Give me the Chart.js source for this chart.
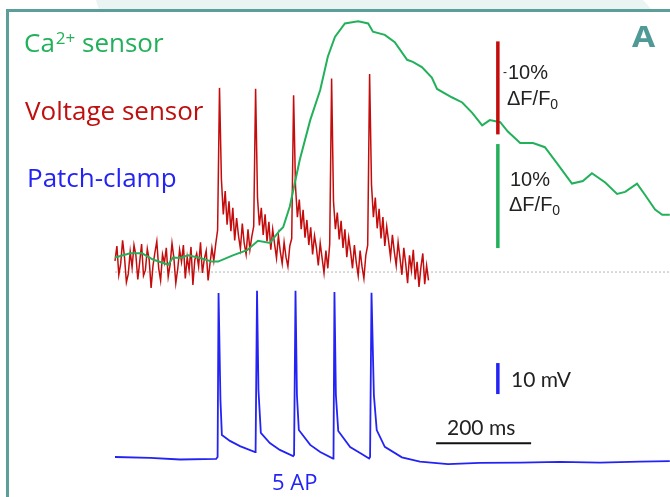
<!DOCTYPE html>
<html>
<head>
<meta charset="utf-8">
<script src="https://cdn.jsdelivr.net/npm/chart.js@4"></script>
<style>
  html, body { margin: 0; padding: 0; background: #fff; }
  body { width: 670px; height: 497px; position: relative; overflow: hidden; }
  #band { position: absolute; left: 0; top: 0; width: 670px; height: 10px; background: #e9f4f3;
          clip-path: polygon(96px 0, 643px 0, 652px 10px, 99px 10px); }
  #frame { position: absolute; left: 6px; top: 9px; width: 700px; height: 520px;
           border-left: 3px solid #5b9e9a; border-top: 3px solid #5b9e9a; box-sizing: border-box; }
  #c { position: absolute; left: 0; top: 0; }
</style>
</head>
<body>
<div id="band"></div>
<div id="frame"></div>
<canvas id="c" width="670" height="497"></canvas>
<script>
// time in ms, trace start = 0
// voltage sensor (-ΔF/F, %), sampled every 4 ms
const redStart = 0, redStep = 4;
const redValues = [
  -1.2, -2.8, 0.3, -0.9, -3.4, -1.6, 1.1, 0.2, -2.2, -0.5,
  -2.9, -1.8, 0.8, -1.1, -3.0, 0.4, -0.2, -2.5, -1.3, 1.7,
  -0.7, -2.1, -3.3, -0.4, 0.9, -1.9, -1.0, -2.6, 0.5, -0.8,
  -3.1, -1.5, 1.2, -0.3, -2.4, -1.1, -2.9, 0.7, -1.6, -0.2,
  -2.7, 1.4, -1.3, -2.0, -0.6, -3.2, 0.1, -1.4, -2.3, 0.9,
  -0.9, -2.6, -1.2, -3.0,
  -4.5, -19.8, -10.0, -6.2, -8.7, -5.1, -7.6, -4.4, -6.9, -3.4,
  -5.8, -3.9, -2.5, -5.2, -3.1, -1.9, -4.6, -2.4, -3.8, -4.9,
  -19.7, -8.0, -5.0, -6.9, -4.0, -6.2, -3.3, -5.4, -2.4, -4.6,
  -3.0, -1.5, -3.9, -2.2, -0.9, -3.2, -1.6, -0.6, -2.8, -3.6,
  -19.0, -9.2, -5.9, -7.8, -4.6, -6.7, -3.7, -5.6, -2.9, -4.8,
  -1.9, -3.9, -2.6, -0.7, -3.1, -1.5, 0.1, -2.3, -0.4, -3.0,
  -20.8, -7.6, -4.6, -6.4, -3.5, -5.5, -2.6, -4.6, -1.6, -3.7,
  -2.2, -0.4, -2.9, -1.0, 0.4, -2.3, -0.6, 0.7, -1.8, -2.9,
  -21.3, -9.4, -5.9, -8.0, -4.7, -6.8, -3.6, -5.9, -2.8, -4.9,
  -3.3, -1.6, -4.0, -2.2, -0.7, -3.2, -1.5, 0.3, -2.6, -0.9,
  1.2, -1.8, -0.2, -2.4, 0.8, -1.1, 1.6, -0.5, -2.0, 1.3,
  -0.7, 0.9
];

// Ca2+ sensor (ΔF/F, %)
const greenTimes = [0, 32, 57, 80, 112, 122, 137, 154, 179, 204, 217, 248, 278, 301, 326, 347, 354, 368, 389, 411,
  432, 448, 463, 484, 512, 533, 543, 568, 589, 615, 627, 646, 667, 678, 709, 731, 752, 773, 789, 811,
  827, 853, 880, 905, 933, 962, 985, 1004, 1032, 1057, 1074, 1099, 1116, 1137, 1152, 1168];
const greenValues = [1.4, 1.8, 1.8, 1.2, 0.7, 1.4, 1.35, 1.6, 1.35, 1.0, 1.0, 1.6, 2.1, 3.0, 2.8, 4.0, 4.3, 6.3, 10.8, 14.6,
  17.5, 20.7, 22.6, 23.9, 24.1, 23.9, 23.1, 22.8, 22.1, 20.4, 20.2, 19.7, 18.7, 17.6, 16.8, 16.3, 15.3, 14.1, 14.6, 14.4,
  13.5, 12.4, 12.4, 12.0, 10.3, 8.5, 8.75, 9.5, 8.6, 7.5, 7.7, 8.5, 7.4, 6.0, 5.5, 5.5];

// patch-clamp (mV)
const blueTimes = [0, 74, 137, 213, 216, 218, 222, 225, 242, 263, 295, 296, 299, 302, 307, 326, 347, 375,
  377, 380, 383, 387, 411, 432, 459, 460, 462, 465, 470, 495, 516, 535, 537, 540, 545, 551, 568, 604,
  642, 701, 768, 853, 937, 1021, 1105, 1168];
const blueValues = [-65.0, -65.3, -65.8, -65.6, -65.0, -12.1, -46.6, -57.9, -59.8, -61.5, -63.4, -63.0, -11.4, -43.4, -57.2, -60.5, -62.7, -64.7,
  -64.3, -11.4, -45.0, -56.3, -61.1, -63.4, -65.5, -65.0, -11.8, -45.0, -56.6, -61.8, -63.7, -65.5, -65.0, -12.0, -45.0, -56.3, -61.7, -65.1,
  -66.5, -67.3, -66.9, -66.8, -66.6, -66.8, -66.5, -66.3];

const baselineTimes = [0, 1168];
const baselineValues = [0, 0];

const pts = (xs, ys) => ys.map((y, i) => ({ x: xs[i], y: y }));
const redTimes = redValues.map((v, i) => redStart + i * redStep);

const GREEN = '#22b15a', RED = '#c40c0c', BLUE = '#2323f5', TEAL = '#4f9a96';

// scale bars and labels
const overlay = {
  id: 'overlay',
  afterDatasetsDraw(chart) {
    const c = chart.ctx, s = chart.scales;
    const bar = (color, w, x1, y1, x2, y2) => {
      c.save(); c.strokeStyle = color; c.lineWidth = w; c.lineCap = 'butt';
      c.beginPath(); c.moveTo(x1, y1); c.lineTo(x2, y2); c.stroke(); c.restore();
    };
    const bx = s.x.getPixelForValue(806);
    bar(RED, 3.5, bx, s.yRed.getPixelForValue(-24.8), bx, s.yRed.getPixelForValue(-14.8));
    bar(GREEN, 3.5, bx, s.yGreen.getPixelForValue(12.3), bx, s.yGreen.getPixelForValue(2.3));
    bar(BLUE, 3.5, bx, s.yBlue.getPixelForValue(-34.7), bx, s.yBlue.getPixelForValue(-44.7));
    const ty = s.yBlue.getPixelForValue(-60.6);
    bar('#111', 2, s.x.getPixelForValue(676), ty, s.x.getPixelForValue(876), ty);

    const txt = (t, x, y, font, color, sx = 1) => {
      c.save(); c.font = font; c.fillStyle = color; c.textBaseline = 'alphabetic';
      c.translate(x, y); c.scale(sx, 1);
      c.fillText(t, 0, 0); const w = c.measureText(t).width * sx; c.restore(); return w;
    };
    const lab = '26px "Open Sans"';
    let x = 24;
    x += txt('Ca', x, 52, lab, GREEN) + 1;
    x += txt('2+', x, 44, '17px "Open Sans"', GREEN);
    txt(' sensor', x, 52, lab, GREEN);
    txt('Voltage sensor', 25, 120, lab, '#bf0f0f');
    txt('Patch-clamp', 27, 187, lab, BLUE);

    const sm = '20px "Liberation Sans"';
    txt('-', 503, 76, '12px "Liberation Sans"', '#222');
    txt('10%', 508, 79, sm, '#222');
    let w = txt('ΔF/F', 507, 105, sm, '#222');
    txt('0', 507 + w, 109, '14px "Liberation Sans"', '#222');
    txt('10%', 510, 186, sm, '#222');
    w = txt('ΔF/F', 509, 211, sm, '#222');
    txt('0', 509 + w, 215, '14px "Liberation Sans"', '#222');
    txt('10 mV', 511, 387, '21px Lato', '#222');
    txt('200 ms', 447, 435, '21px Lato', '#222');
    txt('5 AP', 272, 490, '22px "Open Sans"', BLUE);
    txt('A', 632, 47, 'bold 28px "Open Sans"', TEAL, 1.2);
  }
};

new Chart(document.getElementById('c'), {
  type: 'line',
  data: {
    datasets: [
      { data: pts(greenTimes, greenValues), yAxisID: 'yGreen', borderColor: GREEN, borderWidth: 2 },
      { data: pts(redTimes, redValues), yAxisID: 'yRed', borderColor: RED, borderWidth: 1.5 },
      { data: pts(baselineTimes, baselineValues), yAxisID: 'yRed', borderColor: '#b5b5b5', borderWidth: 1, borderDash: [2, 2] },
      { data: pts(blueTimes, blueValues), yAxisID: 'yBlue', borderColor: BLUE, borderWidth: 1.8 }
    ]
  },
  options: {
    responsive: false,
    animation: false,
    layout: { padding: 0 },
    elements: { point: { radius: 0 }, line: { tension: 0, fill: false } },
    plugins: { legend: { display: false }, tooltip: { enabled: false } },
    scales: {
      x: { type: 'linear', min: -242.1, max: 1168.4, display: false },
      yRed: { min: -29.25, max: 24.19, reverse: true, display: false },
      yGreen: { min: -21.63, max: 26.15, display: false },
      yBlue: { min: -77.9, max: 82.4, display: false }
    }
  },
  plugins: [overlay]
});
</script>
</body>
</html>
